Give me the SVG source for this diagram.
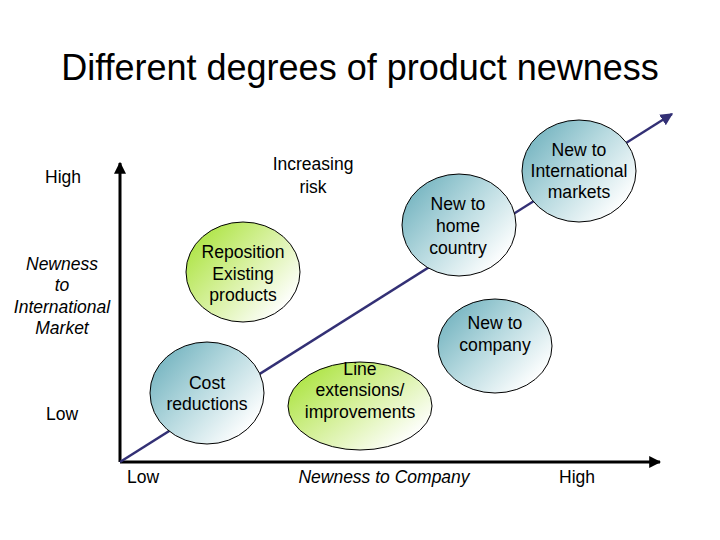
<svg xmlns="http://www.w3.org/2000/svg" width="720" height="540" viewBox="0 0 720 540">
<style>
text{font-family:"Liberation Sans",Arial,sans-serif;fill:#000}
.t{font-size:36px;text-anchor:middle}
.l{font-size:17.5px;text-anchor:middle}
.i{font-style:italic}
.c{font-size:17.6px;text-anchor:middle}
.blue{fill:url(#gb);stroke:#000;stroke-width:1}
.green{fill:url(#gg);stroke:#000;stroke-width:1}
.axis{stroke:#000;stroke-width:3;fill:none}
</style>
<defs>
<linearGradient id="gb" x1="0" y1="0.1" x2="1" y2="0.9">
<stop offset="0" stop-color="#6aaebb"/>
<stop offset="0.45" stop-color="#b6d9df"/>
<stop offset="0.9" stop-color="#ffffff"/>
</linearGradient>
<linearGradient id="gg" x1="0" y1="0.1" x2="1" y2="0.9">
<stop offset="0" stop-color="#a6e234"/>
<stop offset="0.45" stop-color="#d4f098"/>
<stop offset="0.9" stop-color="#ffffff"/>
</linearGradient>
<marker id="ab" viewBox="0 0 10 10" refX="9" refY="5" markerWidth="4" markerHeight="4" orient="auto"><path d="M0,0 L10,5 L0,10 z" fill="#000"/></marker>
<marker id="ap" viewBox="0 0 10 10" refX="9" refY="5" markerWidth="5" markerHeight="5" orient="auto"><path d="M0,0 L10,5 L0,10 z" fill="#333075"/></marker>
</defs>
<rect width="720" height="540" fill="#fff"/>
<text class="t" x="360" y="80">Different degrees of product newness</text>
<g id="connectors">
<line class="axis" x1="120" y1="462" x2="120" y2="163" marker-end="url(#ab)"/>
<line class="axis" x1="120" y1="462" x2="660" y2="462" marker-end="url(#ab)"/>
<line x1="120" y1="462" x2="672" y2="114" stroke="#333075" stroke-width="2.5" marker-end="url(#ap)"/>
</g>
<g id="labels">
<text class="l" x="63" y="183">High</text>
<text class="l" x="313" y="170">Increasing</text>
<text class="l" x="313" y="193">risk</text>
<text class="l i" x="62" y="270">Newness</text>
<text class="l i" x="62" y="291">to</text>
<text class="l i" x="62" y="313">International</text>
<text class="l i" x="62" y="334">Market</text>
<text class="l" x="62" y="420">Low</text>
<text class="l" x="143" y="483">Low</text>
<text class="l i" x="384" y="483">Newness to Company</text>
<text class="l" x="577" y="483">High</text>
</g>
<g id="cost">
<ellipse class="blue" cx="207" cy="393" rx="57" ry="51"/>
<text class="c" x="207" y="389">Cost</text>
<text class="c" x="207" y="410">reductions</text>
</g>
<g id="line-ext">
<ellipse class="green" cx="360" cy="406" rx="72" ry="44"/>
<text class="c" x="360" y="375">Line</text>
<text class="c" x="360" y="396">extensions/</text>
<text class="c" x="360" y="418">improvements</text>
</g>
<g id="reposition">
<ellipse class="green" cx="243" cy="272" rx="57" ry="50"/>
<text class="c" x="243" y="258">Reposition</text>
<text class="c" x="243" y="280">Existing</text>
<text class="c" x="243" y="301">products</text>
</g>
<g id="home">
<ellipse class="blue" cx="459" cy="225" rx="57" ry="51"/>
<text class="c" x="458" y="210">New to</text>
<text class="c" x="458" y="232">home</text>
<text class="c" x="458" y="254">country</text>
</g>
<g id="intl">
<ellipse class="blue" cx="579" cy="171" rx="57" ry="51"/>
<text class="c" x="579" y="156">New to</text>
<text class="c" x="579" y="177">International</text>
<text class="c" x="579" y="198">markets</text>
</g>
<g id="company">
<ellipse class="blue" cx="495" cy="346" rx="57" ry="47"/>
<text class="c" x="495" y="329">New to</text>
<text class="c" x="495" y="351">company</text>
</g>
</svg>
